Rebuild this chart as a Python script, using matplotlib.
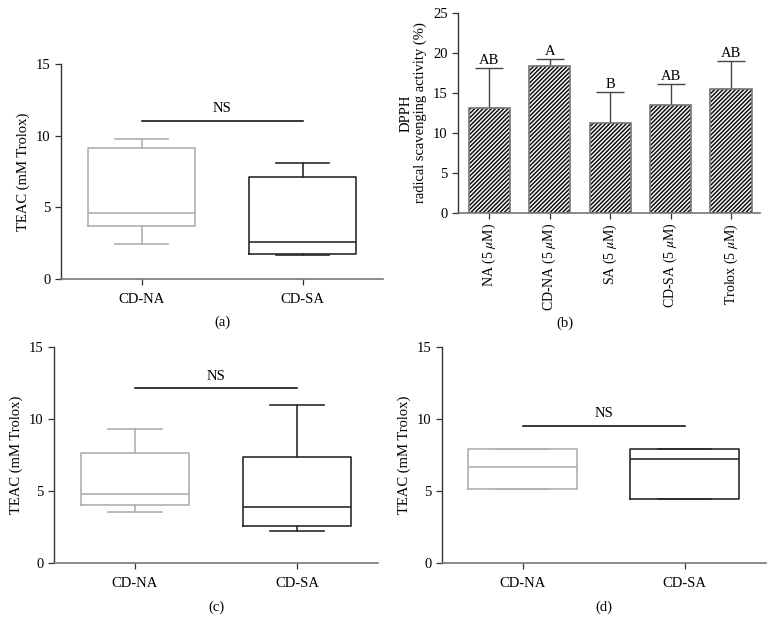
import matplotlib
matplotlib.use("Agg")
import matplotlib.pyplot as plt
import numpy as np

plt.rcParams['font.family'] = ['Liberation Serif', 'DejaVu Serif']
plt.rcParams['hatch.linewidth'] = 1.1
plt.rcParams['mathtext.fontset'] = 'stix'

# ---- Data ----
groups = ["CD-NA", "CD-SA"]
# box stats: whisker low, q1, median, q3, whisker high
a_stats = [[2.46, 3.67, 4.6, 9.12, 9.75], [1.7, 1.74, 2.58, 7.1, 8.08]]
a_ns = 11.03
c_stats = [[3.51, 4.02, 4.76, 7.66, 9.31], [2.18, 2.55, 3.9, 7.38, 11.0]]
c_ns = 12.14
d_stats = [[5.11, 5.11, 6.69, 7.89, 7.89], [4.41, 4.41, 7.2, 7.89, 7.89]]
d_ns = 9.52

b_labels = ["NA (5 $\\mu$M)", "CD-NA (5 $\\mu$M)", "SA (5 $\\mu$M)", "CD-SA (5 $\\mu$M)", "Trolox (5 $\\mu$M)"]
b_means = [13.08, 18.4, 11.2, 13.54, 15.49]
b_err = [5.02, 0.87, 3.87, 2.53, 3.53]
b_letters = ["AB", "A", "B", "AB", "AB"]

box_colors = ["#a9b3ae", "#2b2b2b"]
FS = 10.5

fig = plt.figure(figsize=(7.74, 6.33), dpi=100)
W, H = 774, 633

def add_ax(l, r, t, b):
    return fig.add_axes([l / W, 1 - b / H, (r - l) / W, (b - t) / H])

def style(ax):
    for s in ["top", "right"]:
        ax.spines[s].set_visible(False)
    ax.spines["left"].set_color("#333333")
    ax.spines["bottom"].set_color("#777777")
    ax.spines["left"].set_linewidth(1.0)
    ax.spines["bottom"].set_linewidth(1.2)
    ax.tick_params(direction="out", length=4, width=0.9, colors="#333333", labelsize=FS, labelcolor="black")

def boxpanel(ax, stats, ns, letter, label_y):
    style(ax)
    for i, (st, col) in enumerate(zip(stats, box_colors)):
        bxp = [{"whislo": st[0], "q1": st[1], "med": st[2], "q3": st[3], "whishi": st[4], "fliers": []}]
        props = dict(color=col, linewidth=1.2)
        ax.bxp(bxp, positions=[i], widths=0.67, showfliers=False,
               boxprops=props, medianprops=props, whiskerprops=props,
               capprops=props, capwidths=0.33, manage_ticks=False)
    ax.plot([0, 1], [ns, ns], color="black", lw=1.1)
    ax.text(0.5, ns + 0.4, "NS", ha="center", va="bottom", fontsize=FS)
    ax.set_xlim(-0.5, 1.5)
    ax.set_ylim(0, 15)
    ax.set_yticks([0, 5, 10, 15])
    ax.set_xticks([0, 1])
    ax.set_xticklabels(groups)
    ax.tick_params(axis="x", pad=6)
    ax.set_ylabel("TEAC (mM Trolox)", fontsize=FS)
    ax.text(0.5, label_y, letter, transform=ax.transAxes, ha="center", va="center", fontsize=FS)

# (a)
ax_a = add_ax(61, 383, 64, 279)
boxpanel(ax_a, a_stats, a_ns, "(a)", -0.2)

# (c)
ax_c = add_ax(54, 378, 347.3, 562.7)
boxpanel(ax_c, c_stats, c_ns, "(c)", -0.205)

# (d)
ax_d = add_ax(441.7, 765.7, 347.3, 562.7)
boxpanel(ax_d, d_stats, d_ns, "(d)", -0.205)

# (b)
ax_b = add_ax(458, 760, 12.7, 213)
style(ax_b)
x = np.arange(len(b_means))
ax_b.bar(x, b_means, width=0.68, color="white", edgecolor="#111111", hatch="////////", linewidth=0, zorder=2)
ax_b.bar(x, b_means, width=0.68, fill=False, edgecolor="#777777", linewidth=1.2, zorder=3)
ax_b.errorbar(x, b_means, yerr=[np.zeros(len(b_err)), b_err], fmt="none", ecolor="#444444",
              elinewidth=1.0, capsize=10, capthick=1.0, zorder=1)
for xi, m, e, t in zip(x, b_means, b_err, b_letters):
    ax_b.text(xi, m + e + 0.1, t, ha="center", va="bottom", fontsize=FS)
ax_b.set_xlim(-0.52, 4.48)
ax_b.set_ylim(0, 25)
ax_b.set_yticks([0, 5, 10, 15, 20, 25])
ax_b.set_xticks(x)
ax_b.set_xticklabels(b_labels, rotation=90)
ax_b.tick_params(axis="x", labelsize=10, pad=3)
ax_b.set_ylabel("DPPH\nradical scavenging activity (%)", fontsize=FS, linespacing=1.1)
fig.text(565 / W, 1 - 323 / H, "(b)", ha="center", va="center", fontsize=FS)

fig.savefig("out.png", dpi=100)
